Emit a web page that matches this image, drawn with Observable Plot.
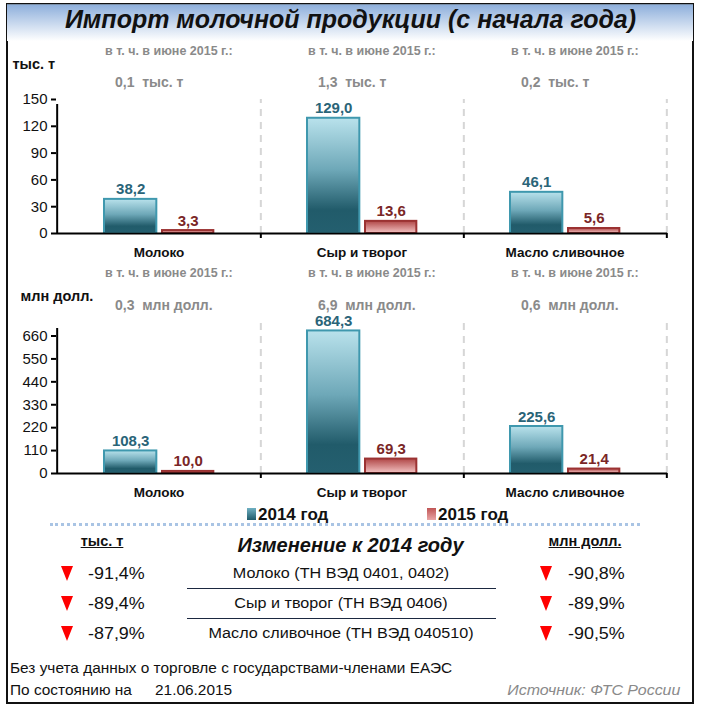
<!DOCTYPE html>
<html><head><meta charset="utf-8">
<script src="https://cdn.jsdelivr.net/npm/d3@7"></script>
<script src="https://cdn.jsdelivr.net/npm/@observablehq/plot@0.6"></script>
<style>
body{margin:0;background:#fff;font-family:"Liberation Sans",Arial,sans-serif;}
#page{position:relative;width:701px;height:709px;overflow:hidden;background:#fff;}
.abs{position:absolute;white-space:nowrap;line-height:1;}
.wide{transform:scaleX(1.1);transform-origin:left center;}
#frame{position:absolute;left:6px;top:3px;width:688px;height:701px;border:2px solid #111;box-sizing:border-box;}
#titlebar{position:absolute;left:7px;top:4px;width:686px;height:36px;background:linear-gradient(#8fb0dc,#ffffff);border-top:1px solid #7a8fa8;}
#title{left:0;width:701px;top:7px;text-align:center;font-weight:bold;font-style:italic;font-size:25px;color:#111;}
.chart{position:absolute;left:0;}
.sw{position:absolute;width:9px;height:12px;}
.leg{font-weight:bold;font-size:17px;color:#111;}
.tri{position:absolute;width:0;height:0;border-left:6px solid transparent;border-right:6px solid transparent;border-top:15px solid #ff0000;}
.pct{font-size:16.3px;color:#111;}
.item{font-size:14.7px;color:#111;text-align:center;width:310px;transform:scaleX(1.1);transform-origin:center center;}
.sep{position:absolute;height:0;border-top:1.5px solid #1b2840;}
.foot{font-size:14px;color:#111;}
</style></head><body><div id="page">
<div id="frame"></div>
<div id="titlebar"></div>
<div id="title" class="abs">Импорт молочной продукции (с начала года)</div>
<div id="top" class="chart" style="top:40px"></div>
<div id="bottom" class="chart" style="top:262px"></div>
<div id="legend"></div>
<div class="abs" style="left:50px;top:523px;width:590px;border-top:3px dotted #a9c4e4;"></div>
<div class="abs" style="left:0;width:701px;top:535px;text-align:center;font-weight:bold;font-style:italic;font-size:20px;color:#111;">Изменение к 2014 году</div>
<div class="abs" style="left:52px;width:100px;top:534px;text-align:center;font-weight:bold;font-size:14.5px;text-decoration:underline;color:#111;">тыс. т</div>
<div class="abs" style="left:535px;width:100px;top:534px;text-align:center;font-weight:bold;font-size:14.5px;text-decoration:underline;color:#111;">млн долл.</div>
<div id="table"></div>
<div class="abs foot wide" style="left:10px;top:661px;">Без учета данных о торговле с государствами-членами ЕАЭС</div>
<div class="abs foot wide" style="left:10px;top:683px;">По состоянию на</div>
<div id="asof" class="abs foot wide" style="left:155px;top:683px;"></div>
<div class="abs foot" style="right:21px;top:683px;font-size:14.5px;font-style:italic;color:#8a8a8a;transform:scaleX(1.1);transform-origin:right center;">Источник: ФТС России</div>
</div>
<script>
// ---- data ----
const categories = ["Молоко", "Сыр и творог", "Масло сливочное"];
const years = ["2014 год", "2015 год"];
const tons2014 = [38.2, 129.0, 46.1];
const tons2015 = [3.3, 13.6, 5.6];
const usd2014 = [108.3, 684.3, 225.6];
const usd2015 = [10.0, 69.3, 21.4];
const juneTons = [0.1, 1.3, 0.2];
const juneUsd = [0.3, 6.9, 0.6];
const tonsTicks = [0, 30, 60, 90, 120, 150];
const usdTicks = [0, 110, 220, 330, 440, 550, 660];
const tableItems = ["Молоко (ТН ВЭД 0401, 0402)", "Сыр и творог (ТН ВЭД 0406)", "Масло сливочное (ТН ВЭД 040510)"];
const changeTons = [-91.4, -89.4, -87.9];
const changeUsd = [-90.8, -89.9, -90.5];
const asOfDate = "21.06.2015";
const juneNote = "в т. ч. в июне 2015 г.:";

const fmt1 = v => d3.format(".1f")(v).replace(".", ",").replace("\u2212", "-");
const C14 = {stroke: "#3f98ae", label: "#2a6478"};
const C15 = {stroke: "#9b3232", label: "#7a2626"};
const SANS = "'Liberation Sans',Arial,sans-serif";

function barChart({id, v14, v15, june, unit, ticks, ymax, height, marginTop, marginBottom, unitDy, noteDy, valDy, unitDx}) {
  const W = 701, ml = 56, mr = 34;
  const bw = (W - ml - mr) / categories.length;
  const rows = categories.map((c, i) => ({cat: c, v14: v14[i], v15: v15[i], june: june[i]}));
  const defs = () => {
    const d = d3.create("svg:defs");
    const g1 = d.append("linearGradient").attr("id", id + "g14").attr("x1", 0).attr("x2", 0).attr("y1", 0).attr("y2", 1);
    g1.append("stop").attr("offset", "0%").attr("stop-color", "#b9e2ec");
    g1.append("stop").attr("offset", "45%").attr("stop-color", "#6ea8b8");
    g1.append("stop").attr("offset", "80%").attr("stop-color", "#215b6a");
    g1.append("stop").attr("offset", "100%").attr("stop-color", "#245f6f");
    const g2 = d.append("linearGradient").attr("id", id + "g15").attr("x1", 0).attr("x2", 0).attr("y1", 0).attr("y2", 1);
    g2.append("stop").attr("offset", "0%").attr("stop-color", "#b04646");
    g2.append("stop").attr("offset", "100%").attr("stop-color", "#f3c3c3");
    return d.node();
  };
  const plot = Plot.plot({
    width: W, height, marginLeft: ml, marginRight: mr, marginTop, marginBottom,
    x: {domain: categories, padding: 0, label: null},
    y: {domain: [0, ymax], label: null},
    style: {background: "transparent", fontFamily: SANS, fontSize: "13px", color: "#111", overflow: "visible"},
    marks: [
      defs,
      Plot.ruleX(categories, {x: d => d, y1: 0, y2: ymax, dx: bw / 2, stroke: "#d6d6d6", strokeWidth: 2, strokeDasharray: "7,6"}),
      Plot.barY(rows, {x: "cat", y: "v14", insetLeft: 47, insetRight: bw - 100, fill: `url(#${id}g14)`, stroke: C14.stroke, strokeWidth: 2}),
      Plot.barY(rows, {x: "cat", y: "v15", insetLeft: 105, insetRight: bw - 157, fill: `url(#${id}g15)`, stroke: C15.stroke, strokeWidth: 2}),
      Plot.text(rows, {x: "cat", y: "v14", text: d => fmt1(d.v14), dx: 73.5 - bw / 2, dy: -5, lineAnchor: "bottom", fill: C14.label, fontWeight: "bold", fontSize: 15}),
      Plot.text(rows, {x: "cat", y: "v15", text: d => fmt1(d.v15), dx: 131 - bw / 2, dy: -5, lineAnchor: "bottom", fill: C15.label, fontWeight: "bold", fontSize: 15}),
      Plot.ruleY([0], {stroke: "#000", strokeWidth: 2}),
      Plot.ruleX(categories, {x: d => d, y1: 0, y2: 0, dx: bw / 2, insetBottom: -5, stroke: "#000", strokeWidth: 2}),
      Plot.ruleX(categories.slice(0, 1), {x: d => d, y1: 0, y2: ymax, dx: -bw / 2, insetBottom: -5, stroke: "#000", strokeWidth: 2}),
      Plot.axisY({ticks, tickSize: 5, tickPadding: 4, stroke: "#000", strokeWidth: 2, fill: "#111", fontSize: 15, label: null}),
      Plot.axisX({tickSize: 0, tickPadding: 14, fontWeight: "bold", fontSize: 13.5, fill: "#111", label: null}),
      Plot.text(rows, {x: "cat", frameAnchor: "top", text: () => juneNote, dx: -54, dy: noteDy, textAnchor: "start", lineAnchor: "middle", fill: "#8a8a8a", fontWeight: "bold", fontSize: 12.5}),
      Plot.text(rows, {x: "cat", frameAnchor: "top", text: d => fmt1(d.june) + "\u00a0 " + unit, dx: -44, dy: valDy, textAnchor: "start", lineAnchor: "middle", fill: "#8a8a8a", fontWeight: "bold", fontSize: 14}),
      Plot.text([unit], {frameAnchor: "top-left", text: d => d, dx: unitDx, dy: unitDy, textAnchor: "start", lineAnchor: "middle", fill: "#111", fontWeight: "bold", fontSize: 14.5})
    ]
  });
  document.getElementById(id).appendChild(plot);
}

barChart({id: "top", v14: tons2014, v15: tons2015, june: juneTons, unit: "тыс. т", ticks: tonsTicks, ymax: 150,
  height: 222, marginTop: 59, marginBottom: 29, unitDy: -35, noteDy: -49, valDy: -17, unitDx: -44});
barChart({id: "bottom", v14: usd2014, v15: usd2015, june: juneUsd, unit: "млн долл.", ticks: usdTicks, ymax: 720,
  height: 242, marginTop: 61, marginBottom: 31, unitDy: -27, noteDy: -51, valDy: -18, unitDx: -36});

// legend
const legend = document.getElementById("legend");
const swatchFills = ["linear-gradient(#6fb0c2,#1f5b6a)", "linear-gradient(#c05555,#e8a5a5)"];
const legendLeft = [247, 427];
years.forEach((y, i) => {
  const s = document.createElement("div");
  s.className = "sw";
  s.style.left = legendLeft[i] + "px"; s.style.top = "508px"; s.style.background = swatchFills[i];
  legend.appendChild(s);
  const t = document.createElement("div");
  t.className = "abs leg";
  t.style.left = (legendLeft[i] + 11) + "px"; t.style.top = "506px";
  t.textContent = y;
  legend.appendChild(t);
});

// table
const table = document.getElementById("table");
const rowY = [573, 603, 633];
const pctFmt = v => fmt1(v) + "%";
tableItems.forEach((name, i) => {
  const y = rowY[i];
  const add = (cls, style, text) => {
    const e = document.createElement("div");
    e.className = cls; Object.assign(e.style, style);
    if (text != null) e.textContent = text;
    table.appendChild(e); return e;
  };
  add("tri", {left: "61px", top: (y - 7) + "px"});
  add("abs pct wide", {left: "88px", top: (y - 8) + "px"}, pctFmt(changeTons[i]));
  add("abs item", {left: "186px", top: (y - 7) + "px"}, name);
  add("tri", {left: "540px", top: (y - 7) + "px"});
  add("abs pct wide", {left: "568px", top: (y - 8) + "px"}, pctFmt(changeUsd[i]));
  if (i < tableItems.length - 1) add("sep", {left: "187px", width: "309px", top: (y + 15) + "px"});
});
document.getElementById("asof").textContent = asOfDate;
</script>
</body></html>
